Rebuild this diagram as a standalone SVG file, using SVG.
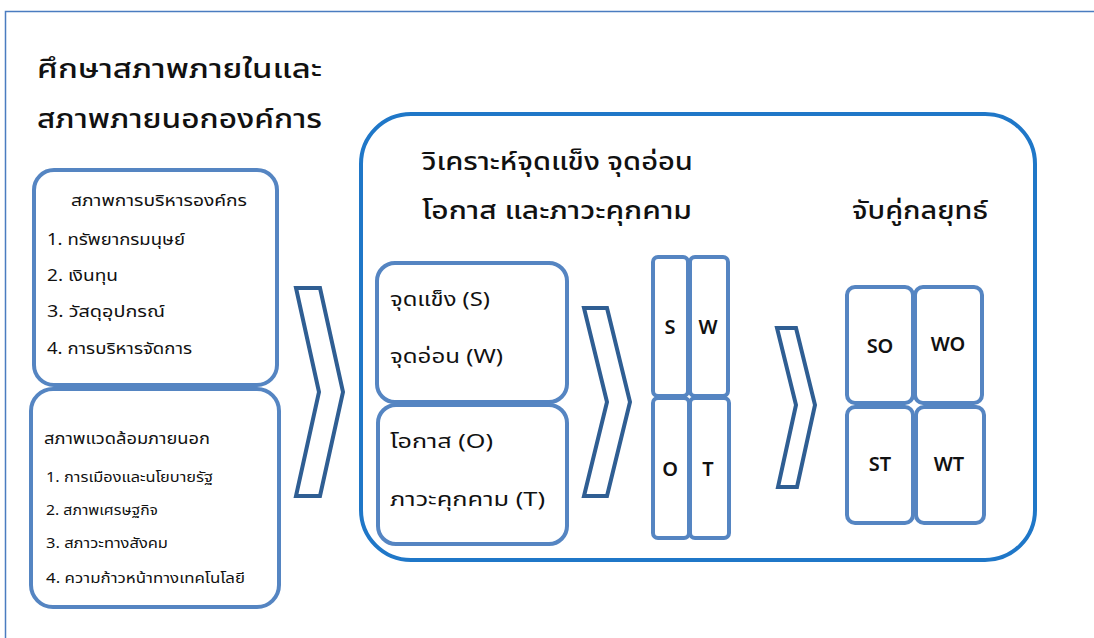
<svg xmlns="http://www.w3.org/2000/svg" width="1094" height="638" viewBox="0 0 1094 638">
<style>
.t{font-family:Tahoma,"Noto Sans Thai","Noto Sans","DejaVu Sans",sans-serif;fill:#111}
.box{fill:#fff;stroke:#5585C2;stroke-width:4}
.chev{fill:#fff;stroke:#2F5E93;stroke-width:4;stroke-linejoin:miter}
.big{fill:none;stroke:#1F77C8;stroke-width:4}
.frame{fill:none;stroke:#4A7CC0;stroke-width:1.5}
.h{font-size:27px;font-weight:500}
.m{font-size:16px}
.s{font-size:14px}
.l{font-size:20px}
.k{font-size:25px;font-weight:500}
.g{font-family:"Noto Sans","Open Sans",sans-serif;font-size:20px;font-weight:600;text-anchor:middle;fill:#111}
</style>
<rect width="1094" height="638" fill="#fff"/>
<path class="frame" d="M5.5,638 V11.5 H1094"/>
<g id="title">
<text class="t h" x="37" y="78" textLength="285" lengthAdjust="spacingAndGlyphs">ศึกษาสภาพภายในและ</text>
<text class="t h" x="37" y="128" textLength="285" lengthAdjust="spacingAndGlyphs">สภาพภายนอกองค์การ</text>
</g>
<g id="internal">
<rect class="box" x="34" y="170" width="243" height="215" rx="20"/>
<text class="t m" x="71" y="206" textLength="176" lengthAdjust="spacingAndGlyphs">สภาพการบริหารองค์กร</text>
<text class="t m" x="47" y="245" textLength="138" lengthAdjust="spacingAndGlyphs">1. ทรัพยากรมนุษย์</text>
<text class="t m" x="47" y="281" textLength="71" lengthAdjust="spacingAndGlyphs">2. เงินทุน</text>
<text class="t m" x="47" y="317" textLength="118" lengthAdjust="spacingAndGlyphs">3. วัสดุอุปกรณ์</text>
<text class="t m" x="47" y="354" textLength="145" lengthAdjust="spacingAndGlyphs">4. การบริหารจัดการ</text>
</g>
<g id="external">
<rect class="box" x="31" y="389" width="248" height="218" rx="22"/>
<text class="t m" x="44" y="444" textLength="166" lengthAdjust="spacingAndGlyphs">สภาพแวดล้อมภายนอก</text>
<text class="t s" x="46" y="482" textLength="167" lengthAdjust="spacingAndGlyphs">1. การเมืองและนโยบายรัฐ</text>
<text class="t s" x="46" y="515" textLength="112" lengthAdjust="spacingAndGlyphs">2. สภาพเศรษฐกิจ</text>
<text class="t s" x="46" y="548" textLength="122" lengthAdjust="spacingAndGlyphs">3. สภาวะทางสังคม</text>
<text class="t s" x="46" y="583" textLength="199" lengthAdjust="spacingAndGlyphs">4. ความก้าวหน้าทางเทคโนโลยี</text>
</g>
<g id="connectors">
<polygon class="chev" points="296,288 320,288 343,392 320,496 296,496 319,392"/>
<polygon class="chev" points="584,308 607,308 630,402 607,496 584,496 607,402"/>
<polygon class="chev" points="777,328 796,328 815,405 797,487 778,487 796,405"/>
</g>
<g id="analysis">
<rect class="big" x="361" y="114" width="674" height="446" rx="50"/>
<text class="t k" x="422" y="170" textLength="271" lengthAdjust="spacingAndGlyphs">วิเคราะห์จุดแข็ง จุดอ่อน</text>
<text class="t k" x="422" y="219" textLength="270" lengthAdjust="spacingAndGlyphs">โอกาส และภาวะคุกคาม</text>
<text class="t k" x="852" y="219" textLength="136" lengthAdjust="spacingAndGlyphs">จับคู่กลยุทธ์</text>
</g>
<g id="sw-box">
<rect class="box" x="377" y="263" width="190" height="139" rx="18"/>
<text class="t l" x="390" y="306" textLength="100" lengthAdjust="spacingAndGlyphs">จุดแข็ง (S)</text>
<text class="t l" x="390" y="363" textLength="113" lengthAdjust="spacingAndGlyphs">จุดอ่อน (W)</text>
</g>
<g id="ot-box">
<rect class="box" x="378" y="405" width="189" height="139" rx="18"/>
<text class="t l" x="390" y="448" textLength="103" lengthAdjust="spacingAndGlyphs">โอกาส (O)</text>
<text class="t l" x="390" y="506" textLength="155" lengthAdjust="spacingAndGlyphs">ภาวะคุกคาม (T)</text>
</g>
<g id="swot-grid">
<rect class="box" x="653" y="257" width="35" height="139" rx="5"/>
<rect class="box" x="690" y="257" width="38" height="139" rx="5"/>
<rect class="box" x="653" y="398" width="36" height="140" rx="5"/>
<rect class="box" x="690" y="398" width="39" height="140" rx="5"/>
<text class="g" x="670" y="334">S</text>
<text class="g" x="708" y="334">W</text>
<text class="g" x="670" y="476">O</text>
<text class="g" x="708" y="476">T</text>
</g>
<g id="strategy-grid">
<rect class="box" x="847" y="287" width="66" height="116" rx="8"/>
<rect class="box" x="915" y="287" width="67" height="116" rx="8"/>
<rect class="box" x="847" y="407" width="66" height="116" rx="8"/>
<rect class="box" x="916" y="407" width="68" height="116" rx="8"/>
<text class="g" x="880" y="353">SO</text>
<text class="g" x="948" y="351">WO</text>
<text class="g" x="880" y="471">ST</text>
<text class="g" x="949" y="471">WT</text>
</g>
</svg>
